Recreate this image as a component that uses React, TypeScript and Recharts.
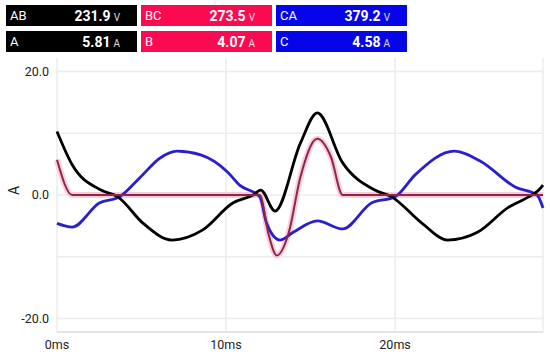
import { LineChart, Line, XAxis, YAxis, CartesianGrid, ReferenceLine } from 'recharts';

// Phase A current (black)
const timeA = [0, 0.9, 2.6, 3.6, 5.1, 6.8, 8.6, 10.4, 11.6, 12.05, 12.9, 14.4, 15.4, 16.9, 18.8, 19.8, 21.6, 23.1, 24.9, 26.7, 27.9, 28.5, 28.75];
const valueA = [10.3, 4.9, 0.8, -0.3, -4.6, -7.3, -5.7, -1.3, 0, 0.8, -2.6, 8.4, 13.3, 5.2, 0.8, -0.3, -4.6, -7.3, -6.0, -2.0, -0.3, 0.8, 1.6];

// Phase B current (dark red with pink halo)
const timeB = [0, 0.9, 12.0, 12.5, 13.0, 13.7, 14.4, 15.4, 16.2, 16.9, 28.75];
const valueB = [5.7, 0, 0, -6.2, -9.8, -6.2, 2.9, 9.1, 6.2, 0, 0];

// Phase C current (blue)
const timeC = [0, 0.9, 2.5, 3.7, 4.9, 6.1, 7.1, 8.5, 10.1, 10.8, 12.0, 12.4, 13.2, 14.0, 15.4, 16.9, 18.6, 20.0, 21.2, 23.5, 25.1, 27.1, 28.4, 28.75];
const valueC = [-4.6, -5.2, -1.3, -0.3, 2.8, 6.0, 7.1, 6.5, 3.7, 1.6, -0.3, -4.6, -7.3, -6.0, -4.2, -5.5, -1.3, -0.3, 3.3, 7.1, 5.4, 1.3, 0, -2.1];

const xTicks = [0, 10, 20];
const yTicks = [-20, -10, 0, 10, 20];
const X_MAX = 28.75;

// header readings
const voltageLabels = ['AB', 'BC', 'CA'];
const voltageValues = ['231.9', '273.5', '379.2'];
const currentLabels = ['A', 'B', 'C'];
const currentValues = ['5.81', '4.07', '4.58'];
const phaseColors = ['#000000', '#fa0a50', '#0505e8'];

const toSeries = (t: number[], v: number[]) => t.map((x, i) => ({ t: x, v: v[i] }));

const seriesA = toSeries(timeA, valueA);
const seriesB = toSeries(timeB, valueB);
const seriesC = toSeries(timeC, valueC);

const FONT = 'Roboto, "Noto Sans", sans-serif';

const Reading = ({ label, value, unit, bg, left, top }: any) => (
    <div
        style={{
            position: 'absolute', left, top, width: 131, height: 21, background: bg,
            color: '#fff', fontFamily: FONT, display: 'flex', alignItems: 'center',
            justifyContent: 'space-between', boxSizing: 'border-box', padding: '0 17px 0 4px',
        }}
    >
        <span style={{ fontSize: 13 }}>{label}</span>
        <span>
            <span style={{ fontSize: 14, fontWeight: 700 }}>{value}</span>
            <span style={{ fontSize: 10, marginLeft: 3, opacity: 0.85 }}>{unit}</span>
        </span>
    </div>
);

export default function App() {
    return (
        <div style={{ position: 'absolute', left: 0, top: 0, width: 550, height: 358, background: '#fff', fontFamily: FONT }}>
            {voltageLabels.map((l, i) => (
                <Reading key={l} label={l} value={voltageValues[i]} unit="V" bg={phaseColors[i]} left={6 + i * 135} top={5} />
            ))}
            {currentLabels.map((l, i) => (
                <Reading key={l} label={l} value={currentValues[i]} unit="A" bg={phaseColors[i]} left={6 + i * 135} top={31} />
            ))}
            <div style={{ position: 'absolute', left: 0, top: 0 }}>
                <LineChart width={550} height={358} margin={{ top: 58, right: 7, left: 0, bottom: 0 }}>
                    <CartesianGrid stroke="#ececec" strokeWidth={1.5} horizontalValues={yTicks} verticalValues={xTicks} />
                    <XAxis
                        dataKey="t"
                        type="number"
                        domain={[0, X_MAX]}
                        ticks={xTicks}
                        height={26}
                        tickFormatter={(v) => `${v}ms`}
                        tick={{ fontSize: 12.5, fill: '#222' }}
                        tickLine={false}
                        axisLine={{ stroke: '#e4e4e4', strokeWidth: 2 }}
                        allowDuplicatedCategory={false}
                    />
                    <YAxis
                        type="number"
                        domain={[-22.2, 22.2]}
                        ticks={yTicks}
                        width={57}
                        tickFormatter={(v) => (v % 20 === 0 ? v.toFixed(1) : '')}
                        tick={{ fontSize: 12.5, fill: '#222' }}
                        tickLine={false}
                        axisLine={false}
                        label={{ value: 'A', angle: -90, position: 'insideLeft', offset: 14, style: { fontSize: 14, fill: '#222' } }}
                    />
                    <ReferenceLine x={X_MAX} stroke="#ececec" strokeWidth={1.5} />
                    <Line data={seriesB} dataKey="v" type="monotone" stroke="#f9cbe3" strokeWidth={6} dot={false} isAnimationActive={false} />
                    <Line data={seriesC} dataKey="v" type="monotone" stroke="#2a1fd0" strokeWidth={2.8} dot={false} isAnimationActive={false} />
                    <Line data={seriesA} dataKey="v" type="monotone" stroke="#000000" strokeWidth={2.8} dot={false} isAnimationActive={false} />
                    <Line data={seriesB} dataKey="v" type="monotone" stroke="#8c2a3c" strokeWidth={2} dot={false} isAnimationActive={false} />
                </LineChart>
            </div>
        </div>
    );
}
